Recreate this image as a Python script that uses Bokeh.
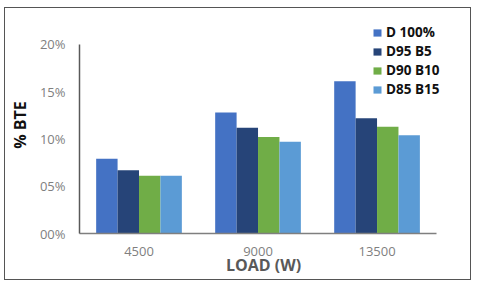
from bokeh.plotting import figure
from bokeh.models import ColumnDataSource, Range1d, FixedTicker, Legend, LegendItem
from bokeh.transform import dodge
from bokeh.embed import file_html
from bokeh.resources import INLINE

loads = ["4500", "9000", "13500"]
series = ["D 100%", "D95 B5", "D90 B10", "D85 B15"]
d100 = [7.9, 12.8, 16.1]
d95_b5 = [6.7, 11.2, 12.2]
d90_b10 = [6.1, 10.2, 11.3]
d85_b15 = [6.1, 9.7, 10.4]
y_ticks = [0, 5, 10, 15, 20]
y_tick_labels = ["00%", "05%", "10%", "15%", "20%"]
colors = ["#4472C4", "#264478", "#70AD47", "#5B9BD5"]

pos = list(range(len(loads)))
source = ColumnDataSource(dict(pos=pos, d100=d100, d95=d95_b5, d90=d90_b10, d85=d85_b15))

p = figure(x_range=Range1d(-0.5, 2.592), y_range=Range1d(0, 22.96),
           width=467, height=273, output_backend="svg", toolbar_location=None,
           min_border_left=74, min_border_right=25, min_border_top=8, min_border_bottom=48)
p.margin = (7, 0, 0, 4)
p.styles = {"border": "1px solid #555555"}

keys = ["d100", "d95", "d90", "d85"]
offsets = [-0.27, -0.09, 0.09, 0.27]
renderers = []
for k, off, c in zip(keys, offsets, colors):
    r = p.vbar(x=dodge("pos", off), top=k, width=0.18, source=source,
               fill_color=c, line_color=None)
    renderers.append(r)

p.xgrid.visible = False
p.ygrid.visible = False
p.outline_line_color = None

yax = p.yaxis[0]
yax.ticker = FixedTicker(ticks=y_ticks)
yax.major_label_overrides = {t: l for t, l in zip(y_ticks, y_tick_labels)}
yax.bounds = (0, 20)
yax.axis_line_color = "#595959"
yax.axis_line_width = 1.5
yax.major_tick_line_color = None
yax.minor_tick_line_color = None
yax.major_tick_out = 0
yax.major_tick_in = 0
yax.major_label_text_font = "Open Sans"
yax.major_label_text_font_size = "13px"
yax.major_label_text_color = "#7f7f7f"
yax.major_label_standoff = 14
yax.axis_label = "% BTE"
yax.axis_label_text_font = "Open Sans"
yax.axis_label_text_font_style = "bold"
yax.axis_label_text_font_size = "16px"
yax.axis_label_text_color = "#111111"
yax.axis_label_standoff = 6

xax = p.xaxis[0]
xax.ticker = FixedTicker(ticks=pos)
xax.major_label_overrides = {i: l for i, l in zip(pos, loads)}
xax.bounds = (-0.5, len(loads) - 0.5)
xax.axis_line_color = "#7f7f7f"
xax.axis_line_width = 1.5
xax.major_tick_line_color = None
xax.minor_tick_line_color = None
xax.major_tick_out = 0
xax.major_tick_in = 0
xax.major_label_text_font = "Open Sans"
xax.major_label_text_font_size = "13px"
xax.major_label_text_color = "#7f7f7f"
xax.major_label_standoff = 13
xax.axis_label = "LOAD (W)"
xax.axis_label_text_font = "Open Sans"
xax.axis_label_text_font_style = "bold"
xax.axis_label_text_font_size = "16px"
xax.axis_label_text_color = "#595959"
xax.axis_label_standoff = -5

legend = Legend(items=[LegendItem(label=s, renderers=[r]) for s, r in zip(series, renderers)],
                location=(293, 135), orientation="vertical")
legend.border_line_color = None
legend.background_fill_alpha = 0
legend.padding = 0
legend.margin = 0
legend.glyph_width = 10
legend.glyph_height = 9
legend.label_height = 9
legend.label_standoff = 4
legend.spacing = 1
legend.label_text_font = "Open Sans"
legend.label_text_font_style = "bold"
legend.label_text_font_size = "13.5px"
legend.label_text_color = "#111111"
p.add_layout(legend, "center")

open("out.html", "w").write(file_html(p, INLINE))
